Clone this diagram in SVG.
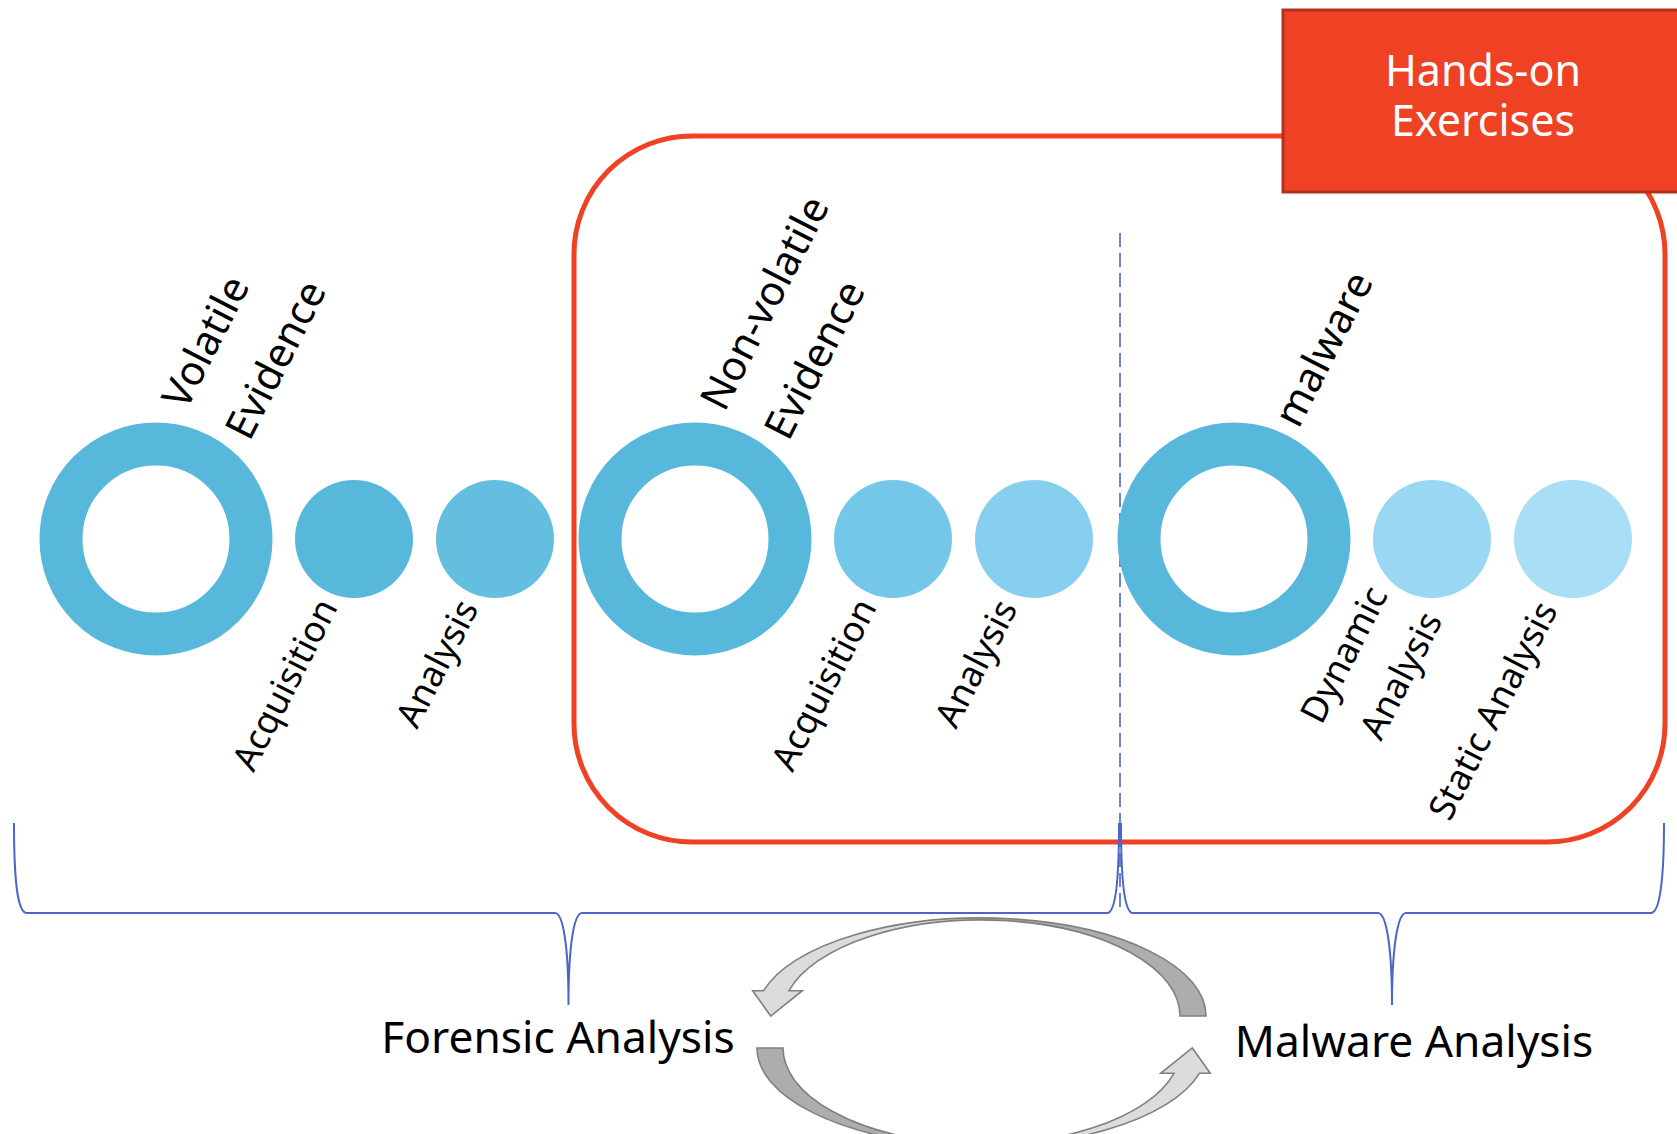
<svg xmlns="http://www.w3.org/2000/svg" width="1677" height="1134" viewBox="0 0 1677 1134">
<style>
.ring{fill:none;stroke:#57B8DC;stroke-width:43}
.lbl{font-family:"Noto Sans","DejaVu Sans",sans-serif;font-size:36px;fill:#000;text-anchor:middle;dominant-baseline:central}
.up{font-size:41px}
.big{font-family:"Noto Sans","DejaVu Sans",sans-serif;font-size:44.3px;fill:#000;text-anchor:middle}
.wt{font-size:43px;fill:#fff}
.brace{fill:none;stroke:#4A66C8;stroke-width:2}
.outl{fill:none;stroke:#808080;stroke-width:1.6;stroke-linejoin:miter}
</style>
<defs>
<g id="cyc">
<path d="M981,918 A225,98 0 0 1 1206,1016 L1180,1016 A199,96 0 0 0 981,920 Z" fill="#ADADAD"/>
<path d="M981,918 A225,98 0 0 0 763.6,990.7 L752.7,990.7 L770.7,1016 L802.3,990.7 L789,990.7 A199,96 0 0 1 981,920 Z" fill="#DCDCDC"/>
<path class="outl" d="M1206,1016 A225,98 0 0 0 763.6,990.7 L752.7,990.7 L770.7,1016 L802.3,990.7 L789,990.7 A199,96 0 0 1 1180,1016 Z"/>
</g>
</defs>
<rect width="1677" height="1134" fill="#fff"/>

<g id="frame">
<rect x="574" y="136" width="1091" height="706" rx="118" fill="none" stroke="#EF4123" stroke-width="5"/>
</g>

<g id="connectors">
<line x1="1120" y1="233" x2="1120" y2="909" stroke="#4A66C8" stroke-width="1.6" stroke-dasharray="14 6"/>
<path class="brace" d="M14,823 C14,885 18,913 27,913 L555,913 C563,913 568.5,945 568.5,1005 C568.5,945 574,913 582,913 L1107,913 C1115,913 1119,885 1119,823"/>
<path class="brace" d="M1121,823 C1121,885 1125,913 1133,913 L1378,913 C1386,913 1392,945 1392,1005 C1392,945 1398,913 1406,913 L1651,913 C1659,913 1664,885 1664,823"/>
<use href="#cyc"/>
<use href="#cyc" transform="rotate(180 981.5 1032)"/>
</g>

<g id="hands-on">
<rect x="1283" y="10" width="400" height="182" fill="#EF4123" stroke="#B5301C" stroke-width="3"/>
<text class="big wt" x="1483" y="86">Hands-on</text>
<text class="big wt" x="1483" y="136">Exercises</text>
</g>

<g id="volatile">
<circle class="ring" cx="156" cy="539" r="95"/>
<text class="lbl up" transform="translate(204,341) rotate(-63)">Volatile</text>
<text class="lbl up" transform="translate(274,359) rotate(-63)">Evidence</text>
</g>
<g id="volatile-acquisition">
<circle cx="354" cy="539" r="59" fill="#57B8DC"/>
<text class="lbl" transform="translate(284,684) rotate(-63)">Acquisition</text>
</g>
<g id="volatile-analysis">
<circle cx="495" cy="539" r="59" fill="#63BEE0"/>
<text class="lbl" transform="translate(436,663) rotate(-63)">Analysis</text>
</g>

<g id="nonvolatile">
<circle class="ring" cx="695" cy="539" r="95"/>
<text class="lbl up" transform="translate(763,302) rotate(-63)">Non-volatile</text>
<text class="lbl up" transform="translate(813,359) rotate(-63)">Evidence</text>
</g>
<g id="nonvolatile-acquisition">
<circle cx="893" cy="539" r="59" fill="#74C7E9"/>
<text class="lbl" transform="translate(823,684) rotate(-63)">Acquisition</text>
</g>
<g id="nonvolatile-analysis">
<circle cx="1034" cy="539" r="59" fill="#86CFEE"/>
<text class="lbl" transform="translate(975,663) rotate(-63)">Analysis</text>
</g>

<g id="malware">
<circle class="ring" cx="1234" cy="539" r="95"/>
<text class="lbl up" transform="translate(1322,348) rotate(-63)">malware</text>
</g>
<g id="dynamic-analysis">
<circle cx="1432" cy="539" r="59" fill="#99D7F3"/>
<text class="lbl" transform="translate(1343,654) rotate(-63)">Dynamic</text>
<text class="lbl" transform="translate(1400,675) rotate(-63)">Analysis</text>
</g>
<g id="static-analysis">
<circle cx="1573" cy="539" r="59" fill="#A8DEF6"/>
<text class="lbl" transform="translate(1492,710) rotate(-63)">Static Analysis</text>
</g>

<g id="forensic-analysis">
<text class="big" x="558" y="1053">Forensic Analysis</text>
</g>
<g id="malware-analysis">
<text class="big" x="1414" y="1057">Malware Analysis</text>
</g>
</svg>
